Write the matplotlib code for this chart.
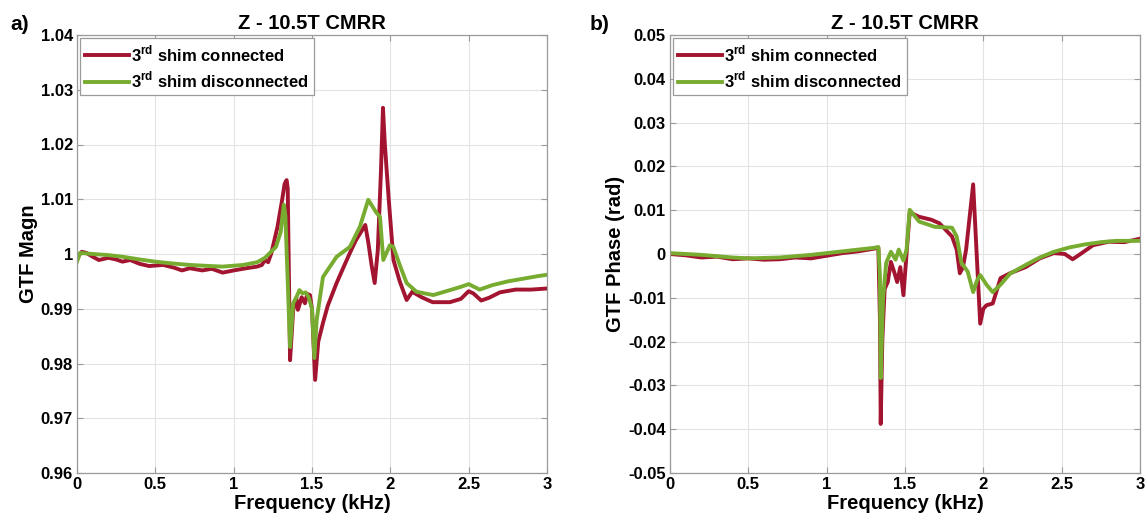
import matplotlib
matplotlib.use("Agg")
import matplotlib.pyplot as plt

plt.rcParams['font.family'] = ['Liberation Sans', 'DejaVu Sans']
plt.rcParams['mathtext.fontset'] = 'custom'
plt.rcParams['mathtext.rm'] = 'Liberation Sans'
plt.rcParams['mathtext.bf'] = 'Liberation Sans:bold'

# ---- data: left panel (GTF magnitude) ----
mag_conn_f = [0.0, 0.03, 0.06, 0.10, 0.14, 0.20, 0.25, 0.29, 0.34, 0.40, 0.46, 0.55, 0.62, 0.67, 0.72,
              0.76, 0.80, 0.86, 0.93, 1.00, 1.08, 1.15, 1.18, 1.20, 1.22, 1.24, 1.28, 1.31, 1.325, 1.338,
              1.345, 1.36, 1.38, 1.40, 1.41, 1.434, 1.455, 1.47, 1.487, 1.50, 1.52, 1.54, 1.57, 1.60,
              1.657, 1.70, 1.742, 1.78, 1.84, 1.86, 1.88, 1.90, 1.92, 1.94, 1.953, 1.965, 1.99, 2.02,
              2.06, 2.104, 2.14, 2.20, 2.27, 2.38, 2.45, 2.50, 2.53, 2.58, 2.63, 2.70, 2.80, 2.90, 3.00]
mag_conn = [0.9993, 1.0004, 1.0002, 0.9995, 0.9989, 0.9993, 0.9990, 0.9986, 0.9989, 0.9982, 0.9978,
            0.9980, 0.9975, 0.9970, 0.9974, 0.9972, 0.9970, 0.9973, 0.9966, 0.9970, 0.9974, 0.9977,
            0.9980, 0.9989, 0.9985, 1.0001, 1.0050, 1.0100, 1.0128, 1.0135, 1.0120, 0.9806, 0.9898,
            0.9920, 0.9898, 0.9921, 0.9910, 0.9927, 0.9925, 0.9900, 0.9770, 0.9840, 0.9874, 0.9905,
            0.9947, 0.9975, 1.0002, 1.0025, 1.0053, 1.0020, 0.9980, 0.9947, 1.0007, 1.0150, 1.0267,
            1.0200, 1.0099, 0.9989, 0.9950, 0.9916, 0.9931, 0.9921, 0.9912, 0.9912, 0.9918, 0.9932,
            0.9928, 0.9915, 0.9920, 0.9930, 0.9935, 0.9935, 0.9937]

mag_disc_f = [0.0, 0.02, 0.10, 0.20, 0.29, 0.40, 0.50, 0.60, 0.72, 0.85, 0.93, 1.06, 1.15, 1.20, 1.27,
              1.30, 1.32, 1.33, 1.345, 1.36, 1.38, 1.40, 1.42, 1.44, 1.46, 1.48, 1.50, 1.515, 1.53,
              1.57, 1.657, 1.742, 1.806, 1.859, 1.912, 1.934, 1.955, 1.997, 2.019, 2.06, 2.104, 2.167,
              2.274, 2.38, 2.45, 2.50, 2.57, 2.65, 2.75, 2.85, 2.95, 3.00]
mag_disc = [0.9986, 1.0002, 1.0000, 0.9998, 0.9995, 0.9990, 0.9986, 0.9983, 0.9980, 0.9978, 0.9977,
            0.9980, 0.9985, 0.9993, 1.0013, 1.0040, 1.0090, 1.0070, 0.9950, 0.9830, 0.9910, 0.9921,
            0.9934, 0.9928, 0.9930, 0.9920, 0.9900, 0.9810, 0.9880, 0.9958, 0.9995, 1.0013, 1.0050,
            1.0099, 1.0075, 1.0068, 0.9989, 1.0016, 1.0013, 0.9980, 0.9947, 0.9931, 0.9925, 0.9934,
            0.9940, 0.9945, 0.9935, 0.9943, 0.9950, 0.9955, 0.9960, 0.9962]

# ---- data: right panel (GTF phase) ----
ph_conn_f = [0.0, 0.1, 0.2, 0.3, 0.4, 0.5, 0.6, 0.7, 0.8, 0.9, 1.0, 1.1, 1.2, 1.3, 1.33, 1.34, 1.345,
             1.355, 1.37, 1.39, 1.41, 1.43, 1.45, 1.47, 1.49, 1.53, 1.59, 1.67, 1.72, 1.76, 1.80, 1.83,
             1.85, 1.87, 1.89, 1.935, 1.98, 2.00, 2.02, 2.06, 2.11, 2.17, 2.27, 2.36, 2.45, 2.52, 2.57,
             2.62, 2.70, 2.80, 2.90, 3.00]
ph_conn = [0.0, -0.0003, -0.0008, -0.0006, -0.0012, -0.0010, -0.0013, -0.0012, -0.0008, -0.0010,
           -0.0004, 0.0002, 0.0006, 0.0012, 0.0014, -0.0150, -0.0388, -0.0200, -0.0080, -0.0064,
           -0.0018, -0.0040, -0.0064, -0.0030, -0.0094, 0.0095, 0.0085, 0.0078, 0.0070, 0.0055,
           0.0040, 0.0010, -0.0044, -0.0030, 0.0010, 0.0159, -0.0159, -0.0125, -0.0117, -0.0113,
           -0.0055, -0.0044, -0.0030, -0.0010, 0.0002, 0.0000, -0.0012, 0.0000, 0.0020, 0.0028,
           0.0027, 0.0035]

ph_disc_f = [0.0, 0.2, 0.4, 0.5, 0.7, 0.9, 1.0, 1.1, 1.2, 1.3, 1.33, 1.34, 1.345, 1.36, 1.38, 1.41,
             1.44, 1.46, 1.49, 1.51, 1.53, 1.59, 1.69, 1.80, 1.83, 1.86, 1.90, 1.935, 1.96, 1.98,
             2.02, 2.06, 2.11, 2.17, 2.27, 2.36, 2.45, 2.55, 2.65, 2.75, 2.85, 3.00]
ph_disc = [0.0002, -0.0002, -0.0008, -0.0010, -0.0008, -0.0002, 0.0002, 0.0006, 0.0010, 0.0014,
           0.0016, -0.0050, -0.0283, -0.0100, -0.0020, 0.0005, -0.0013, 0.0010, -0.0015, 0.0010,
           0.0101, 0.0074, 0.0062, 0.0060, 0.0040, -0.0020, -0.0040, -0.0087, -0.0060, -0.0048,
           -0.0070, -0.0087, -0.0070, -0.0045, -0.0025, -0.0008, 0.0005, 0.0015, 0.0022, 0.0027,
           0.0030, 0.0030]

x_ticks = [0, 0.5, 1, 1.5, 2, 2.5, 3]
x_ticklabels = ['0', '0.5', '1', '1.5', '2', '2.5', '3']
mag_ticks = [0.96, 0.97, 0.98, 0.99, 1.00, 1.01, 1.02, 1.03, 1.04]
mag_ticklabels = ['0.96', '0.97', '0.98', '0.99', '1', '1.01', '1.02', '1.03', '1.04']
ph_ticks = [-0.05, -0.04, -0.03, -0.02, -0.01, 0, 0.01, 0.02, 0.03, 0.04, 0.05]
ph_ticklabels = ['-0.05', '-0.04', '-0.03', '-0.02', '-0.01', '0', '0.01', '0.02', '0.03', '0.04', '0.05']

title = 'Z - 10.5T CMRR'
lab_conn = r'3$^{\mathbf{rd}}$ shim connected'
lab_disc = r'3$^{\mathbf{rd}}$ shim disconnected'

RED = '#A2142F'
GREEN = '#77AC30'
EDGE = '#9a9a9a'

fig = plt.figure(figsize=(11.48, 5.28), dpi=100)
W, H = 1148, 528
ax1 = fig.add_axes([77 / W, (H - 473) / H, 470 / W, 438 / H])
ax2 = fig.add_axes([670 / W, (H - 473) / H, 470 / W, 438 / H])


def style(ax, yticks, yticklabels, ylim, ylabel):
    ax.set_xlim(0, 3)
    ax.set_ylim(*ylim)
    ax.set_xticks(x_ticks)
    ax.set_xticklabels(x_ticklabels, fontsize=12, fontweight='bold')
    ax.set_yticks(yticks)
    ax.set_yticklabels(yticklabels, fontsize=12, fontweight='bold')
    ax.tick_params(direction='in', length=4, color=EDGE, top=True, right=True, pad=3)
    ax.grid(True, color='#e3e3e3', linewidth=0.8)
    ax.set_axisbelow(True)
    for s in ax.spines.values():
        s.set_color(EDGE)
        s.set_linewidth(0.9)
    ax.set_title(title, fontsize=14.5, fontweight='bold', pad=4)
    ax.set_xlabel('Frequency (kHz)', fontsize=14.5, fontweight='bold', labelpad=1)
    ax.set_ylabel(ylabel, fontsize=14.5, fontweight='bold', labelpad=2)


ax1.plot(mag_conn_f, mag_conn, color=RED, lw=2.8, label=lab_conn, solid_joinstyle='round')
ax1.plot(mag_disc_f, mag_disc, color=GREEN, lw=2.8, label=lab_disc, solid_joinstyle='round')
style(ax1, mag_ticks, mag_ticklabels, (0.96, 1.04), 'GTF Magn')

ax2.plot(ph_conn_f, ph_conn, color=RED, lw=2.8, label=lab_conn, solid_joinstyle='round')
ax2.plot(ph_disc_f, ph_disc, color=GREEN, lw=2.8, label=lab_disc, solid_joinstyle='round')
style(ax2, ph_ticks, ph_ticklabels, (-0.05, 0.05), 'GTF Phase (rad)')

for ax in (ax1, ax2):
    leg = ax.legend(loc='upper left', prop={'weight': 'bold', 'size': 12}, fancybox=False,
                    edgecolor=EDGE, framealpha=1, borderaxespad=0.2, handlelength=2.6,
                    handletextpad=0.15, borderpad=0.3, labelspacing=0.35)
    leg.get_frame().set_linewidth(0.9)

fig.text(10 / W, 1 - 30 / H, 'a)', fontsize=15, fontweight='bold')
fig.text(590 / W, 1 - 30 / H, 'b)', fontsize=15, fontweight='bold')

fig.savefig('out.png', dpi=100)
